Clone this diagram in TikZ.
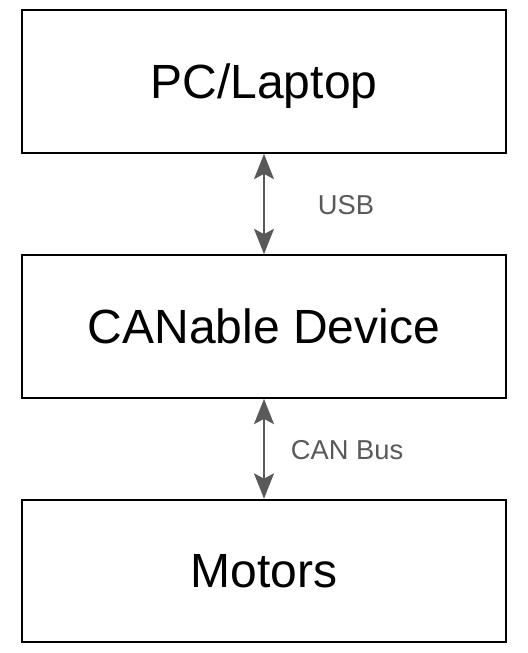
\documentclass[tikz,border=0pt]{standalone}
\usepackage{fontspec}
\setmainfont{Liberation Sans}
\usetikzlibrary{positioning,arrows.meta}
\definecolor{linkgray}{HTML}{595959}
\tikzset{
  block/.style={draw=black, line width=1.5pt, minimum width=363pt, minimum height=107pt, text depth=0pt, font=\fontsize{36}{40}\selectfont},
  link/.style={draw=linkgray, line width=1.5pt, {Stealth[length=19pt,width=15pt,inset=4pt]}-{Stealth[length=19pt,width=15pt,inset=4pt]}},
  linklabel/.style={text=linkgray, font=\fontsize{20.5}{24}\selectfont}
}
\begin{document}
\begin{tikzpicture}[x=0.75pt,y=-0.75pt]
\useasboundingbox (0,0) rectangle (528,653);
\node[block] (pc) at (264, 81.5) {PC/Laptop};
\node[block] (canable) at (264, 326.5) {CANable Device};
\node[block] (motors) at (264, 571) {Motors};
\draw[link] (pc.south) -- (canable.north);
\draw[link] (canable.south) -- (motors.north);
\node[linklabel] (usb) at (346, 205) {USB};
\node[linklabel] (canbus) at (347, 450) {CAN Bus};
\end{tikzpicture}
\end{document}
